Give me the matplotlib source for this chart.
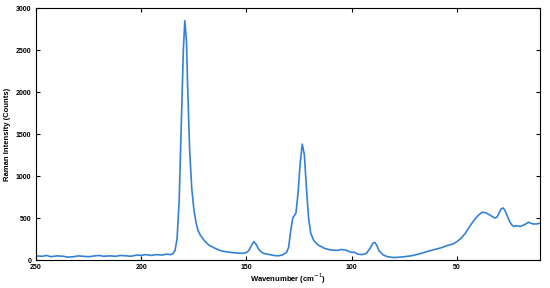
import numpy as np
import matplotlib
matplotlib.use("Agg")
import matplotlib.pyplot as plt

# Raman spectrum (wavenumber in cm^-1, intensity in counts)
wavenumber = [250, 247, 245, 243, 240, 237, 235, 232, 230, 228, 225, 222, 220, 218, 215,
              212, 210, 207, 205, 202, 200, 198, 195, 193, 190, 188, 186, 185, 184, 183,
              182, 181, 180, 179.3, 178.5, 178, 177, 176, 175, 174, 173, 172, 170, 168,
              165, 162, 160, 157, 155, 152, 150, 149, 147.5, 146.5, 145.5, 144, 142, 140,
              137, 135, 133, 131, 130, 129, 128, 127, 126.5, 125.5, 124.5, 123.5, 122.5,
              121.5, 120.5, 119.5, 118, 116, 113, 110, 107, 105, 103, 101, 100, 99, 97,
              95, 93, 91, 90, 89, 88, 87, 85, 83, 80, 77, 75, 72, 70, 67, 65, 63, 60, 57,
              55, 52, 50, 48, 46, 44, 42, 40, 38, 36, 34, 32, 31, 30, 29, 28, 27, 26, 25,
              24, 23, 22, 20, 18, 16, 14, 12, 10.5]
intensity = [50, 45, 55, 40, 50, 45, 35, 40, 50, 45, 40, 50, 55, 45, 50,
             45, 55, 50, 45, 60, 55, 65, 55, 65, 60, 70, 65, 75, 110, 250,
             700, 1600, 2500, 2850, 2600, 2100, 1300, 850, 600, 450, 350, 300, 230, 180,
             140, 110, 100, 90, 85, 80, 90, 110, 180, 220, 190, 120, 80, 70,
             55, 50, 60, 90, 150, 350, 500, 540, 560, 800, 1150, 1380, 1250,
             850, 500, 320, 230, 180, 140, 120, 115, 125, 120, 100, 90, 95, 70,
             65, 80, 150, 200, 210, 170, 110, 60, 40, 30, 35, 40, 50, 60, 80, 95, 110, 130, 150,
             170, 190, 220, 260, 320, 400, 470, 530, 570, 560, 530, 500, 510, 560, 610, 620, 580, 520, 460,
             420, 400, 410, 400, 420, 450, 430, 430, 440]

xticks = [250, 200, 150, 100, 50]
yticks = [0, 500, 1000, 1500, 2000, 2500, 3000]

plt.rcParams['font.family'] = ['Liberation Sans', 'DejaVu Sans']

fig = plt.figure(figsize=(5.5, 2.88), dpi=100)
ax = fig.add_axes([0.0655, 0.097, 0.9165, 0.875])

ax.plot(wavenumber, intensity, color='#3382d8', linewidth=1.2)

ax.set_xlim(250, 10.5)
ax.set_ylim(0, 3000)
ax.set_xticks(xticks)
ax.set_yticks(yticks)
ax.tick_params(direction='in', top=True, right=True, labelsize=5, length=3, width=0.8)
ax.tick_params(axis='x', pad=2.5)
ax.tick_params(axis='y', pad=3.5)
for lab in ax.get_xticklabels() + ax.get_yticklabels():
    lab.set_fontweight('bold')
for s in ax.spines.values():
    s.set_linewidth(0.8)

ax.set_xlabel('Wavenumber (cm$^{-1}$)', fontsize=5.5, fontweight='bold', labelpad=1)
ax.set_ylabel('Raman Intensity (Counts)', fontsize=5.5, fontweight='bold', labelpad=3)

fig.savefig('out.png', dpi=100)
